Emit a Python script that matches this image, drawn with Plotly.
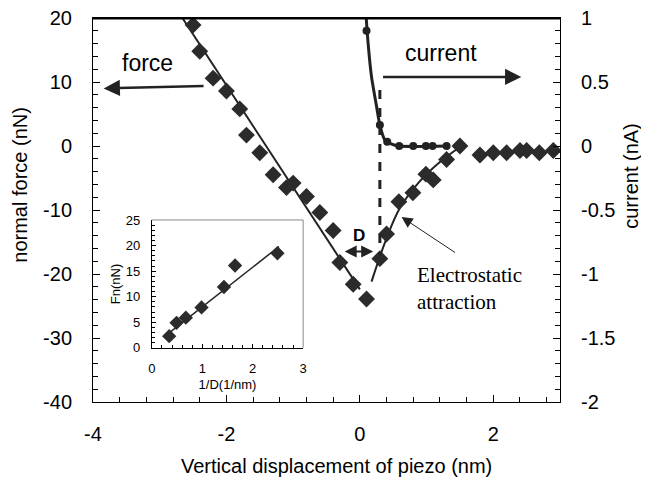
import plotly.graph_objects as go

# ---------------- data ----------------
# force, retract branch (diamonds, left axis)
force_ret_x = [-2.5, -2.4, -2.2, -2.0, -1.8, -1.7, -1.5, -1.3, -1.1, -1.0, -0.8, -0.6, -0.4, -0.3, -0.1, 0.1]
force_ret_y = [18.9, 14.8, 10.6, 8.6, 5.8, 1.7, -1.05, -4.5, -6.5, -5.8, -7.9, -10.4, -13.2, -18.2, -21.6, -23.9]
# force, approach branch (diamonds, left axis)
force_app_x = [0.30, 0.40, 0.585, 0.795, 0.99, 1.10, 1.30, 1.50, 1.80, 2.0, 2.2, 2.4, 2.5, 2.69, 2.9]
force_app_y = [-17.6, -13.75, -8.7, -7.3, -4.4, -5.3, -2.1, 0.0, -1.4, -1.05, -1.05, -0.7, -0.7, -1.05, -0.7]
# straight fit on retract branch
force_fit_x = [-2.66, 0.0]
force_fit_y = [20.0, -22.4]
# electrostatic attraction fit curve
elec_fit_x = [0.175, 0.39, 0.60, 0.90, 1.20, 1.50]
elec_fit_y = [-21.2, -14.7, -9.7, -5.5, -2.5, -0.15]
# current (dots, right axis)
current_x = [0.10, 0.30, 0.41, 0.59, 0.80, 0.99, 1.09, 1.30]
current_y = [0.90, 0.164, 0.034, 0.0, 0.0, 0.0, 0.0, 0.0]
current_fit_x = [0.09, 0.124, 0.175, 0.25, 0.30, 0.375, 0.45, 0.585, 1.30]
current_fit_y = [1.04, 0.80, 0.54, 0.31, 0.164, 0.047, 0.02, 0.0, 0.0]
# inset: Fn vs 1/D
inset_x = [0.344, 0.49, 0.674, 0.985, 1.43, 1.65, 2.49]
inset_y = [2.28, 4.9, 5.9, 7.9, 11.9, 16.1, 18.5]
inset_fit_x = [0.344, 2.52]
inset_fit_y = [2.94, 19.8]

# tick settings
x_ticks = [-4, -2, 0, 2]
x_labels = ["-4", "-2", "0", "2"]
y_ticks = [-40, -30, -20, -10, 0, 10, 20]
y_labels = ["-40", "-30", "-20", "-10", "0", "10", "20"]
y2_ticks = [-2, -1.5, -1, -0.5, 0, 0.5, 1]
y2_labels = ["-2", "-1.5", "-1", "-0.5", "0", "0.5", "1"]

# annotation geometry (data coords)
dash_x = 0.30
dash_y = [8.75, -17.0]

FONT = "Liberation Sans, Arial, Helvetica, sans-serif"
SERIF = "Liberation Serif, Times New Roman, serif"
MK = "#2b2b2b"

fig = go.Figure()

fig.add_trace(go.Scatter(x=force_fit_x, y=force_fit_y, mode="lines",
                         line=dict(color="#222", width=2), showlegend=False))
fig.add_trace(go.Scatter(x=elec_fit_x, y=elec_fit_y, mode="lines",
                         line=dict(color="#222", width=2, shape="spline"), showlegend=False))
fig.add_trace(go.Scatter(x=force_ret_x, y=force_ret_y, mode="markers",
                         marker=dict(symbol="diamond", size=13, color=MK), showlegend=False))
fig.add_trace(go.Scatter(x=force_app_x, y=force_app_y, mode="markers",
                         marker=dict(symbol="diamond", size=13, color=MK), showlegend=False))
fig.add_trace(go.Scatter(x=current_fit_x, y=current_fit_y, mode="lines", yaxis="y2",
                         line=dict(color="#222", width=3, shape="spline", smoothing=0.6),
                         showlegend=False))
fig.add_trace(go.Scatter(x=current_x, y=current_y, mode="markers", yaxis="y2",
                         marker=dict(symbol="circle", size=8, color="#222"), showlegend=False))
# inset
fig.add_trace(go.Scatter(x=inset_fit_x, y=inset_fit_y, mode="lines", xaxis="x3", yaxis="y3",
                         line=dict(color="#222", width=1.5), showlegend=False))
fig.add_trace(go.Scatter(x=inset_x, y=inset_y, mode="markers", xaxis="x3", yaxis="y3",
                         marker=dict(symbol="diamond", size=11, color=MK), showlegend=False))

axis_common = dict(showgrid=False, zeroline=False, showline=True, linecolor="black", linewidth=1,
                   ticks="inside", ticklen=7, tickcolor="black", automargin=False,
                   ticklabeloverflow="allow",
                   tickfont=dict(family=FONT, size=20, color="black"))

# page body has an 8px margin; the figure is sized so the plot area lands where the reference has it
fig.update_layout(
    width=641, height=474,
    margin=dict(l=85.3, r=89, t=10, b=80),
    paper_bgcolor="white", plot_bgcolor="rgba(0,0,0,0)",
    xaxis=dict(range=[-4, 3], tickvals=x_ticks, ticktext=x_labels, mirror=True,
               minor=dict(dtick=0.4, tick0=-4, ticks="inside", ticklen=5, tickcolor="black"),
               ticklabelstandoff=14, **axis_common),
    yaxis=dict(range=[-40, 20], tickvals=y_ticks, ticktext=y_labels,
               minor=dict(dtick=2, tick0=0, ticks="inside", ticklen=5, tickcolor="black"),
               ticklabelstandoff=16, **axis_common),
    yaxis2=dict(range=[-2, 1], tickvals=y2_ticks, ticktext=y2_labels, overlaying="y", side="right",
                minor=dict(dtick=0.1, tick0=0, ticks="inside", ticklen=5, tickcolor="black"),
                ticklabelstandoff=16, **axis_common),
    xaxis3=dict(domain=[0.126, 0.45], anchor="y3", range=[0, 3], tickvals=[0, 1, 2, 3],
                showgrid=False, zeroline=False, showline=True, linecolor="black", linewidth=1,
                ticks="inside", ticklen=4, tickcolor="black", automargin=False,
                minor=dict(dtick=0.2, tick0=0, ticks="inside", ticklen=3, tickcolor="black"),
                tickfont=dict(family=FONT, size=13, color="black"), ticklabelstandoff=9,
                title=dict(text="1/D(1/nm)", font=dict(family=FONT, size=13, color="black"), standoff=4)),
    yaxis3=dict(domain=[0.141, 0.474], anchor="x3", range=[0, 25], tickvals=[0, 5, 10, 15, 20, 25],
                showgrid=False, zeroline=False, showline=True, linecolor="black", linewidth=1,
                ticks="inside", ticklen=4, tickcolor="black", automargin=False,
                minor=dict(dtick=1, tick0=0, ticks="inside", ticklen=3, tickcolor="black"),
                tickfont=dict(family=FONT, size=13, color="black"), ticklabelstandoff=8,
                title=dict(text="Fn(nN)", font=dict(family=FONT, size=13, color="black"), standoff=2)),
)

shapes = [
    # top frame line of the main plot
    dict(type="line", xref="paper", yref="paper", x0=0, x1=1, y0=0.999, y1=0.999,
         line=dict(color="black", width=2)),
    # inset box top and right (gray)
    dict(type="line", xref="paper", yref="paper", x0=0.126, x1=0.45, y0=0.474, y1=0.474,
         line=dict(color="#888", width=1)),
    dict(type="line", xref="paper", yref="paper", x0=0.45, x1=0.45, y0=0.141, y1=0.474,
         line=dict(color="#888", width=1)),
    # dashed vertical line
    dict(type="line", xref="x", yref="y", x0=dash_x, x1=dash_x, y0=dash_y[0], y1=dash_y[1],
         line=dict(color="#222", width=3, dash="dash")),
]
fig.update_layout(shapes=shapes)

ann = []
# axis titles
ann.append(dict(text="Vertical displacement of piezo (nm)", xref="paper", yref="paper",
                x=0.521, y=-0.167, xanchor="center", yanchor="middle", showarrow=False,
                font=dict(family=FONT, size=20, color="black")))
ann.append(dict(text="normal force (nN)", xref="paper", yref="paper", textangle=-90,
                x=-0.157, y=0.565, xanchor="center", yanchor="middle", showarrow=False,
                font=dict(family=FONT, size=20, color="black")))
ann.append(dict(text="current (nA)", xref="paper", yref="paper", textangle=-90,
                x=1.152, y=0.589, xanchor="center", yanchor="middle", showarrow=False,
                font=dict(family=FONT, size=20, color="black")))
# force label and arrow
ann.append(dict(text="force", x=-3.18, y=13.0, xref="x", yref="y", showarrow=False,
                font=dict(family=FONT, size=23, color="black")))
ann.append(dict(text="", x=-3.84, y=9.0, ax=-2.32, ay=9.4, xref="x", yref="y", axref="x", ayref="y",
                showarrow=True, arrowhead=2, arrowsize=1.3, arrowwidth=2.5, arrowcolor="#222"))
# current label and arrow
ann.append(dict(text="current", x=1.22, y=14.5, xref="x", yref="y", showarrow=False,
                font=dict(family=FONT, size=23, color="black")))
ann.append(dict(text="", x=2.42, y=10.8, ax=0.325, ay=10.8, xref="x", yref="y", axref="x", ayref="y",
                showarrow=True, arrowhead=2, arrowsize=1.3, arrowwidth=2.5, arrowcolor="#222"))
# D with double arrow
ann.append(dict(text="<b>D</b>", x=-0.01, y=-14.0, xref="x", yref="y", showarrow=False,
                font=dict(family=FONT, size=17, color="black")))
ann.append(dict(text="", x=0.2, y=-16.5, ax=-0.25, ay=-16.5, xref="x", yref="y", axref="x", ayref="y",
                showarrow=True, arrowhead=2, startarrowhead=2, arrowside="end+start",
                arrowsize=1.2, startarrowsize=1.2, arrowwidth=2, arrowcolor="#222"))
# electrostatic attraction
ann.append(dict(text="Electrostatic<br>attraction", x=0.825, y=-22.2, xref="x", yref="y",
                xanchor="left", yanchor="middle", align="left", showarrow=False,
                font=dict(family=SERIF, size=21, color="black")))
ann.append(dict(text="", x=0.625, y=-11.1, ax=1.45, ay=-16.8, xref="x", yref="y", axref="x", ayref="y",
                showarrow=True, arrowhead=2, arrowsize=2.2, arrowwidth=1, arrowcolor="#222"))
fig.update_layout(annotations=ann)

fig.write_html("out.html")
